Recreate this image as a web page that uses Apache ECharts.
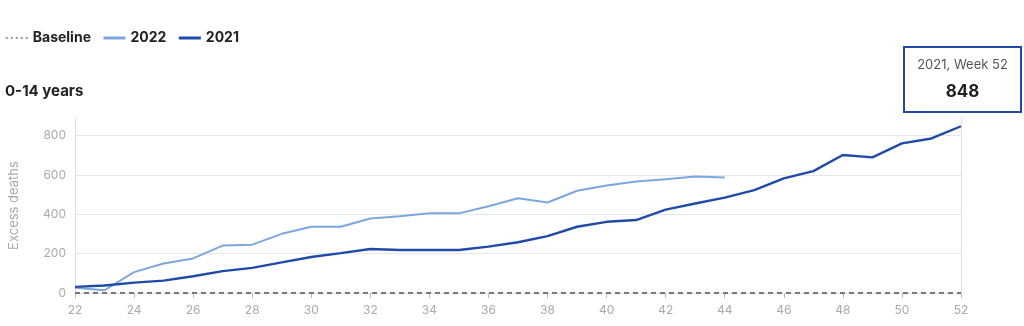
<!DOCTYPE html>
<html>
<head>
<meta charset="utf-8">
<script src="https://cdn.jsdelivr.net/npm/echarts@6/dist/echarts.min.js"></script>
<style>
html,body{margin:0;padding:0;background:#fff;}
#c{width:1024px;height:326px;}
</style>
</head>
<body>
<div id="c"></div>
<script>
const weeks = ['22','23','24','25','26','27','28','29','30','31','32','33','34','35','36','37','38','39','40','41','42','43','44','45','46','47','48','49','50','51','52'];
const values2022 = [27,14,106,150,176,241,246,301,337,337,379,390,405,405,441,482,460,520,547,567,578,593,588];
const values2021 = [31,38,53,63,85,111,128,156,183,203,224,219,219,219,236,258,289,337,362,371,424,455,485,523,583,620,702,690,761,786,848];
const baseline = weeks.map(() => 0);
const yTicks = [0,200,400,600,800];

const FONT = 'Inter, "Noto Sans", sans-serif';
const chart = echarts.init(document.getElementById('c'), null, {renderer:'canvas'});
chart.setOption({
  animation:false,
  backgroundColor:'#fff',
  textStyle:{fontFamily:FONT},
  title:{
    text:'0-14 years', left:5, top:84, padding:0,
    textStyle:{fontFamily:FONT, fontSize:15, fontWeight:'bold', color:'#222'}
  },
  legend:{
    left:5, top:31, padding:0, itemWidth:22, itemHeight:14, itemGap:11,
    itemStyle:{opacity:0},
    textStyle:{fontFamily:FONT, fontSize:14, fontWeight:'bold', color:'#222'},
    data:[
      {name:'Baseline', lineStyle:{type:[2,3], color:'#777', width:1.5}},
      {name:'2022', lineStyle:{width:3}},
      {name:'2021', lineStyle:{width:3}}
    ]
  },
  grid:{left:68, right:63, top:118, bottom:33, containLabel:false},
  xAxis:{
    type:'category', data:weeks, boundaryGap:false, offset:4,
    axisLine:{show:true, lineStyle:{color:'#e0e0e0', width:1}},
    axisTick:{show:true, interval:1, length:5, lineStyle:{color:'#bbb'}},
    axisLabel:{interval:1, color:'#aaa', fontSize:12, margin:7, fontFamily:FONT},
    splitLine:{show:false}
  },
  yAxis:[{
    type:'value', min:0, max:890, interval:200,
    name:'Excess deaths', nameLocation:'middle', nameGap:54, nameRotate:90,
    nameTextStyle:{color:'#aaa', fontSize:13, fontFamily:FONT},
    axisLine:{show:true, lineStyle:{color:'#e0e0e0'}},
    axisTick:{show:false},
    axisLabel:{color:'#aaa', fontSize:12, margin:9, fontFamily:FONT, showMaxLabel:false},
    splitLine:{show:true, showMinLine:false, showMaxLine:false, lineStyle:{color:'#e6e6e6', width:1}}
  },{
    type:'value', min:0, max:890, position:'right',
    axisLine:{show:true, lineStyle:{color:'#e0e0e0'}},
    axisTick:{show:false}, axisLabel:{show:false}, splitLine:{show:false}
  }],
  series:[
    {name:'Baseline', type:'line', data:baseline, symbol:'none', z:1,
     lineStyle:{color:'#777', width:2, type:[5,4]}, itemStyle:{color:'#777'}},
    {name:'2022', type:'line', data:values2022, symbol:'none', z:2,
     lineStyle:{color:'#7ba7e1', width:2}, itemStyle:{color:'#7ba7e1'}},
    {name:'2021', type:'line', data:values2021, symbol:'none', z:3,
     lineStyle:{color:'#1f4ba8', width:2.4}, itemStyle:{color:'#1f4ba8'}}
  ],
  graphic:[{
    type:'group', left:903, top:46,
    children:[
      {type:'rect', shape:{x:0,y:0,width:117,height:65},
       style:{fill:'#fff', stroke:'#2448a8', lineWidth:2}},
      {type:'text', x:58.5, y:18, style:{text:'2021, Week 52', fill:'#555', font:'13px '+FONT, align:'center', verticalAlign:'middle'}},
      {type:'text', x:58.5, y:45, style:{text:String(values2021[values2021.length-1]), fill:'#222', font:'bold 17px '+FONT, align:'center', verticalAlign:'middle'}}
    ]
  }]
});
</script>
</body>
</html>
